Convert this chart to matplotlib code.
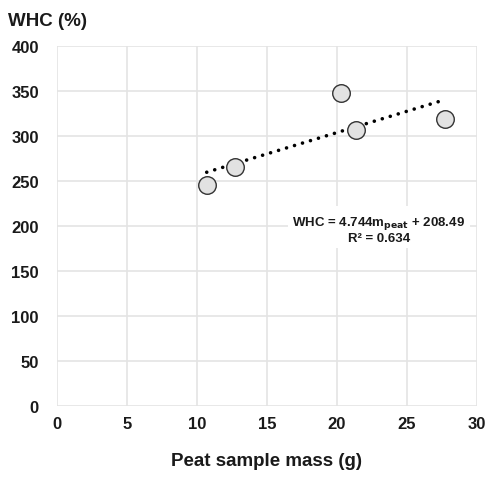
import numpy as np
import matplotlib.pyplot as plt

plt.rcParams["font.family"] = ["Liberation Sans Narrow", "Liberation Sans", "DejaVu Sans"]
plt.rcParams["font.weight"] = "bold"

# data
mass = [10.7, 12.7, 20.3, 21.4, 27.7]
whc = [245.5, 266.0, 348.0, 306.5, 319.0]
x_ticks = [0, 5, 10, 15, 20, 25, 30]
y_ticks = [0, 50, 100, 150, 200, 250, 300, 350, 400]

fig = plt.figure(figsize=(4.88, 4.85), dpi=100)
ax = fig.add_axes([0.1168, 0.1608, 0.8602, 0.7422])

# linear trend
slope, intercept = np.polyfit(mass, whc, 1)
xs = np.array([min(mass), max(mass) - 0.4])
ax.plot(xs, slope * xs + intercept, color="black", linestyle=(0, (0.01, 2.3)),
        linewidth=2.6, dash_capstyle="round", zorder=3)

ax.scatter(mass, whc, s=160, facecolor="#e2e2e2", edgecolor="#333333",
           linewidth=1.0, zorder=4)

ax.set_xlim(0, 30)
ax.set_ylim(0, 400)
ax.set_xticks(x_ticks)
ax.set_yticks(y_ticks)
ax.grid(True, color="#e4e4e4", linewidth=1.2)
ax.set_axisbelow(True)
for s in ax.spines.values():
    s.set_visible(False)
ax.tick_params(length=0, labelsize=12, colors="#1a1a1a")
ax.tick_params(axis="y", pad=13)
ax.tick_params(axis="x", pad=7)

ax.set_xlabel("Peat sample mass (g)", fontsize=13.5, fontweight="bold",
              color="#1a1a1a", labelpad=15)
fig.text(0.016, 0.955, "WHC (%)", fontsize=13.5, fontweight="bold",
         color="#1a1a1a", va="center", ha="left")

ax.text(23.0, 197, "WHC = 4.744m$_{\\mathbf{peat}}$ + 208.49\nR² = 0.634",
        fontsize=9.5, fontweight="bold", color="#1a1a1a", ha="center",
        va="center", linespacing=1.15, zorder=5,
        bbox=dict(facecolor="white", edgecolor="none", pad=3))

fig.savefig("out.png", dpi=100)
